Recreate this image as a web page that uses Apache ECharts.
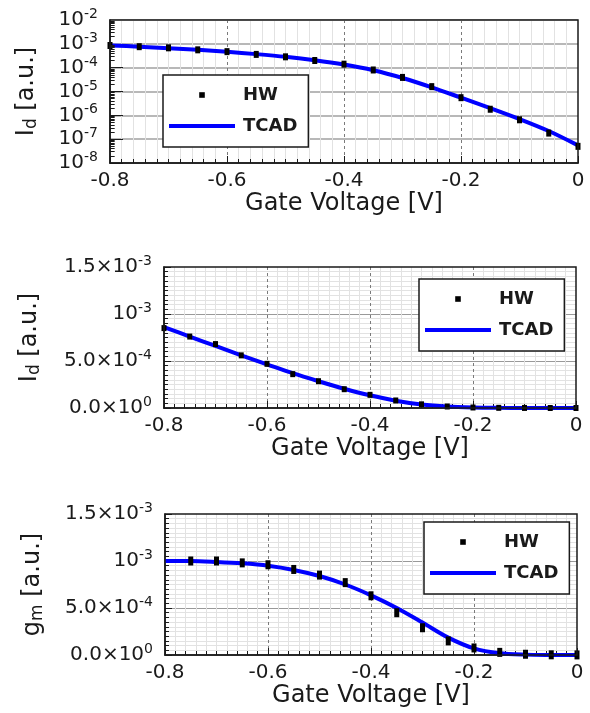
<!DOCTYPE html>
<html><head><meta charset="utf-8">
<script src="https://cdn.jsdelivr.net/npm/echarts@6/dist/echarts.min.js"></script>
<style>html,body{margin:0;padding:0;background:#fff}#c{width:590px;height:713px}</style>
</head><body><div id="c"></div>
<script>
// ---------- data ----------
const gateV   = [-0.8,-0.75,-0.7,-0.65,-0.6,-0.55,-0.5,-0.45,-0.4,-0.35,-0.3,-0.25,-0.2,-0.15,-0.1,-0.05,0];
const idTCAD  = [8.6e-4,7.6e-4,6.6e-4,5.6e-4,4.65e-4,3.7e-4,2.85e-4,2.05e-4,1.35e-4,7.8e-5,3.7e-5,1.5e-5,5.5e-6,2.0e-6,7.0e-7,2.2e-7,5.5e-8];
const idHW    = [8.5e-4,7.6e-4,6.8e-4,5.6e-4,4.7e-4,3.6e-4,2.85e-4,2.0e-4,1.4e-4,8.0e-5,3.9e-5,1.6e-5,5.5e-6,1.8e-6,6.5e-7,1.8e-7,5.0e-8];
const gmHWV   = [-0.75,-0.7,-0.65,-0.6,-0.55,-0.5,-0.45,-0.4,-0.35,-0.3,-0.25,-0.2,-0.15,-0.1,-0.05,0];
const gmHW    = [1.0e-3,1.0e-3,0.98e-3,0.96e-3,0.91e-3,0.85e-3,0.77e-3,0.63e-3,0.45e-3,0.29e-3,0.15e-3,0.075e-3,0.028e-3,0.008e-3,0.002e-3,0.001e-3];
const gmTCAD  = [1.0e-3,1.0e-3,0.99e-3,0.975e-3,0.95e-3,0.905e-3,0.84e-3,0.75e-3,0.635e-3,0.50e-3,0.345e-3,0.185e-3,0.07e-3,0.018e-3,0.004e-3,0.001e-3,0.0003e-3];
const xTicks      = [-0.8,-0.6,-0.4,-0.2,0];
const xTickLabels = ['-0.8','-0.6','-0.4','-0.2','0'];
const logExps     = [-8,-7,-6,-5,-4,-3,-2];
const linTicks    = [0,5e-4,1e-3,1.5e-3];
const linMant     = ['0.0×','5.0×','','1.5×'];
const linExp      = ['0','-4','-3','-3'];
const minorMults  = [2,3,4,5,6,7,8,9];

// ---------- helpers ----------
const FONT = 'DejaVu Sans';
const INK = '#1a1a1a';
const pairs = (xs, ys) => xs.map((x, i) => [x, ys[i]]);
const richLab = {
  b: {fontSize: 20, fontFamily: FONT, color: INK},
  s: {fontSize: 14, fontFamily: FONT, color: INK, padding: [0, 0, 11, 0]}
};
function xFmt(v) { const i = xTicks.findIndex(t => Math.abs(t - v) < 1e-9); return i >= 0 ? xTickLabels[i] : ''; }
function logFmt(v) { const e = Math.round(Math.log10(v)); const i = logExps.indexOf(e); return i >= 0 ? '{b|10}{s|' + logExps[i] + '}' : ''; }
function linFmt(v) { const i = linTicks.findIndex(t => Math.abs(t - v) < 1e-12); return i >= 0 ? '{b|' + linMant[i] + '10}{s|' + linExp[i] + '}' : ''; }
const nameRich = {
  a: {fontSize: 24, fontFamily: FONT, color: INK},
  d: {fontSize: 17, fontFamily: FONT, color: INK, padding: [9, 0, 0, 0]}
};
function xAxisCfg(g) {
  return {
    type: 'value', gridIndex: g, min: -0.8, max: 0, interval: 0.2,
    axisLine: {show: true, onZero: false, lineStyle: {color: INK, width: 1.5}},
    axisTick: {show: true, inside: true, length: 7, lineStyle: {color: INK, width: 1}},
    minorTick: {show: true, splitNumber: 10, length: 4, lineStyle: {color: INK, width: 1}},
    splitLine: {show: true, showMinLine: false, showMaxLine: false, lineStyle: {color: '#7a7a7a', type: [3, 3], width: 1}},
    minorSplitLine: {show: true, lineStyle: {color: '#e2e2e2', width: 1}},
    axisLabel: {margin: 8, fontSize: 20, fontFamily: FONT, color: INK, formatter: xFmt},
    name: 'Gate Voltage [V]', nameLocation: 'middle', nameGap: 29,
    nameTextStyle: {fontSize: 24, fontFamily: FONT, color: INK}
  };
}
function linYCfg(g, nameStr, gap) {
  return {
    type: 'value', gridIndex: g, min: 0, max: 1.5e-3, interval: 5e-4,
    axisLine: {show: true, onZero: false, lineStyle: {color: INK, width: 1.5}},
    axisTick: {show: true, inside: true, length: 7, lineStyle: {color: INK, width: 1}},
    minorTick: {show: true, splitNumber: 10, length: 4, lineStyle: {color: INK, width: 1}},
    splitLine: {show: true, showMinLine: false, showMaxLine: false, lineStyle: {color: '#999999', width: 1}},
    minorSplitLine: {show: true, lineStyle: {color: '#e2e2e2', width: 1}},
    axisLabel: {margin: 12, formatter: linFmt, rich: richLab},
    name: nameStr, nameLocation: 'middle', nameGap: gap,
    nameTextStyle: {rich: nameRich}
  };
}
// minor log grid lines and minor ticks at 2..9 x 10^n
const logMinorLines = [];
const logMinorTicks = [];
logExps.slice(0, -1).forEach(e => minorMults.forEach(m => {
  const v = m * Math.pow(10, e);
  logMinorLines.push({yAxis: v});
  logMinorTicks.push([{coord: [-0.8, v]}, {coord: [-0.792, v]}]);
}));
function tcad(name, xi, xs, ys, extra) {
  return Object.assign({
    name, type: 'line', xAxisIndex: xi, yAxisIndex: xi, data: pairs(xs, ys),
    smooth: 0.3, symbol: 'none', z: 3,
    lineStyle: {color: '#0000ff', width: 4}, itemStyle: {color: '#0000ff'}
  }, extra || {});
}
function hw(name, xi, xs, ys, size) {
  return {
    name, type: 'line', xAxisIndex: xi, yAxisIndex: xi, data: pairs(xs, ys),
    symbol: 'rect', symbolSize: size, showSymbol: true, z: 4,
    lineStyle: {width: 0, opacity: 0}, itemStyle: {color: '#000'}
  };
}
function legendCfg(left, top) {
  return {
    orient: 'vertical', left, top, selectedMode: false,
    data: ['HW', {name: 'TCAD', itemStyle: {opacity: 0}, lineStyle: {width: 4, color: '#0000ff', opacity: 1}}],
    itemWidth: 66, itemHeight: 7, itemGap: 13, padding: [11, 11, 12, 4],
    borderColor: INK, borderWidth: 1.5, backgroundColor: '#fff', z: 20,
    textStyle: {fontSize: 18, fontWeight: 'bold', fontFamily: FONT, color: INK, padding: [0, 0, 0, 3]}
  };
}
const gridCommon = {show: true, borderColor: INK, borderWidth: 1.5, backgroundColor: 'transparent', z: 10};
const option = {
  animation: false, backgroundColor: '#fff',
  grid: [
    Object.assign({left: 110, top: 20, width: 468, height: 143}, gridCommon),
    Object.assign({left: 164, top: 267, width: 412, height: 141}, gridCommon),
    Object.assign({left: 165, top: 514, width: 412, height: 141}, gridCommon)
  ],
  xAxis: [xAxisCfg(0), xAxisCfg(1), xAxisCfg(2)],
  yAxis: [
    {
      type: 'log', gridIndex: 0, logBase: 10, min: 1e-8, max: 1e-2, splitNumber: 6,
      axisLine: {show: true, onZero: false, lineStyle: {color: INK, width: 1.5}},
      axisTick: {show: true, inside: true, length: 13, lineStyle: {color: INK, width: 1}},
      splitLine: {show: true, showMinLine: false, showMaxLine: false, lineStyle: {color: '#a0a0a0', width: 1.5}},
      axisLabel: {margin: 12, formatter: logFmt, rich: richLab},
      name: '{a|I}{d|d}{a| [a.u.]}', nameLocation: 'middle', nameGap: 70,
      nameTextStyle: {rich: nameRich}
    },
    linYCfg(1, '{a|I}{d|d}{a| [a.u.]}', 121),
    linYCfg(2, '{a|g}{d|m}{a| [a.u.]}', 119)
  ],
  legend: [legendCfg(163, 75), legendCfg(419, 279), legendCfg(424, 522)],
  series: [
    tcad('TCAD', 0, gateV, idTCAD, {
      markLine: {silent: true, z: 1, symbol: ['none', 'none'], label: {show: false},
        lineStyle: {color: '#dedede', width: 1, type: 'solid'}, emphasis: {disabled: true}, data: logMinorLines}
    }),
    {type: 'line', xAxisIndex: 0, yAxisIndex: 0, data: [], z: 5,
      markLine: {silent: true, z: 5, symbol: ['none', 'none'], label: {show: false},
        lineStyle: {color: INK, width: 1, type: 'solid'}, emphasis: {disabled: true}, data: logMinorTicks}},
    hw('HW', 0, gateV, idHW, [5, 7]),
    tcad('TCAD', 1, gateV, idTCAD),
    hw('HW', 1, gateV, idHW, [5, 6]),
    tcad('TCAD', 2, gateV, gmTCAD),
    hw('HW', 2, gmHWV, gmHW, [5, 9])
  ]
};
echarts.init(document.getElementById('c')).setOption(option);
</script></body></html>
